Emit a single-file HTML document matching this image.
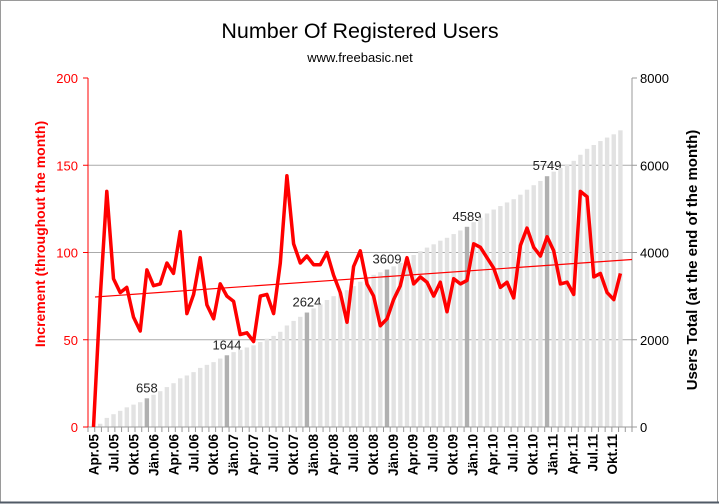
<!DOCTYPE html>
<html><head><meta charset="utf-8"><style>
html,body{margin:0;padding:0;background:#fff}
svg{display:block;font-family:"Liberation Sans",sans-serif}
</style></head><body>
<svg id="c" width="719" height="504" xmlns="http://www.w3.org/2000/svg">
<rect x="0.5" y="0.5" width="717" height="502" fill="#fff" stroke="#9a9a9a"/>
<line x1="0" y1="502.5" x2="719" y2="502.5" stroke="#505a66" stroke-width="2"/>
<text x="360" y="38" font-size="21.5" text-anchor="middle" fill="#000">Number Of Registered Users</text>
<text x="360" y="62" font-size="13" text-anchor="middle" fill="#000">www.freebasic.net</text>
<g id="g"></g>
</svg>
<script>
var v=[0,74,135,85,77,80,63,55,90,81,82,94,88,112,65,76,97,70,62,82,75,72,53,54,49,75,76,65,94,144,105,94,98,93,93,100,87,77,60,92,101,
82,75,58,62,73,81,97,82,86,83,75,83,66,85,82,84,105,103,97,91,80,83,74,104,114,103,98,109,101,82,83,76,135,132,86,88,77,73,88];
var L=88,R=632,T=78,B=427,N=81,w=(R-L)/N;
function px(i){return 93.5+6.67*i}
var s='';
function yl(x){return B-x*(B-T)/200}
function yr(x){return B-x*(B-T)/8000}
var cs=[],acc=0;for(var i=0;i<80;i++){acc+=v[i];cs.push(acc);}
var anc={8:658,20:1644,32:2624,44:3609,56:4589,68:5749,79:6800};
var keys=[0,8,20,32,44,56,68,79];var av={0:0};for(var k in anc)av[k]=anc[k];
var tot=[];
for(var i=0;i<80;i++){
 var a=0;for(var j=0;j<keys.length-1;j++){if(i>=keys[j]&&i<=keys[j+1]){a=j;break;}}
 var k0=keys[a],k1=keys[a+1];var c0=k0==0?0:cs[k0],c1=cs[k1];
 var t=av[k0]+(cs[i]-c0)/(c1-c0)*(av[k1]-av[k0]);tot.push(i==0?14:t);
}
[50,100,150].forEach(function(g){s+='<line x1="'+L+'" x2="'+R+'" y1="'+yl(g)+'" y2="'+yl(g)+'" stroke="#aaa"/>';});
for(var i=0;i<80;i++){var cx=px(i);var hl=anc[i]&&i<79;
 s+='<rect x="'+(cx-2.2)+'" y="'+yr(tot[i])+'" width="4.4" height="'+(B-yr(tot[i]))+'" fill="'+(hl?'#b0b0b0':'#e2e2e2')+'"/>';
 if(hl)s+='<text x="'+cx+'" y="'+(yr(tot[i])-6)+'" font-size="13" text-anchor="middle" fill="#222">'+anc[i]+'</text>';}
s+='<line x1="'+L+'" x2="'+R+'" y1="'+B+'" y2="'+B+'" stroke="#999"/>';
s+='<line x1="'+R+'" x2="'+R+'" y1="'+T+'" y2="'+B+'" stroke="#999"/>';
for(var i=0;i<=N;i++){var x=L+w*i;s+='<line x1="'+x+'" x2="'+x+'" y1="'+B+'" y2="'+(B+5)+'" stroke="#999"/>';}
s+='<line x1="'+L+'" x2="'+L+'" y1="'+T+'" y2="'+B+'" stroke="red"/>';
for(var g=0;g<=200;g+=50){var y=yl(g);s+='<line x1="'+(L-5)+'" x2="'+L+'" y1="'+y+'" y2="'+y+'" stroke="red"/>';
 s+='<text x="'+(L-10)+'" y="'+(y+5)+'" font-size="13" text-anchor="end" fill="red">'+g+'</text>';}
for(var g=0;g<=8000;g+=2000){var y=yr(g);s+='<line x1="'+R+'" x2="'+(R+5)+'" y1="'+y+'" y2="'+y+'" stroke="#999"/>';
 s+='<text x="'+(R+8)+'" y="'+(y+5)+'" font-size="13" fill="#000">'+g+'</text>';}
s+='<line x1="95" y1="'+yl(74.5)+'" x2="'+R+'" y2="'+yl(96)+'" stroke="red" stroke-width="1.2"/>';
var p=v.map(function(d,i){return px(i).toFixed(1)+','+yl(d).toFixed(1)}).join(' ');
s+='<polyline points="'+p+'" fill="none" stroke="red" stroke-width="3.5" stroke-linejoin="round"/>';
var m=['Apr','Jul','Okt','Jän'];var yr0=5;
for(var i=0;i<80;i+=3){var mm=m[(i/3)%4];if(mm=='Jän')yr0++;var lab=mm+'.'+(yr0<10?'0':'')+yr0;
 var x=94+6.65*i+4.5;s+='<text transform="translate('+x+',434) rotate(-90)" font-size="13.5" font-weight="bold" text-anchor="end" fill="#000">'+lab+'</text>';}
s+='<text transform="translate(45,234) rotate(-90)" font-size="14" font-weight="bold" text-anchor="middle" fill="red">Increment  (throughout the month)</text>';
s+='<text transform="translate(697,260) rotate(-90)" font-size="15" font-weight="bold" text-anchor="middle" fill="#000">Users Total  (at the end of the month)</text>';
document.getElementById('g').innerHTML=s;
</script>
</body></html>
